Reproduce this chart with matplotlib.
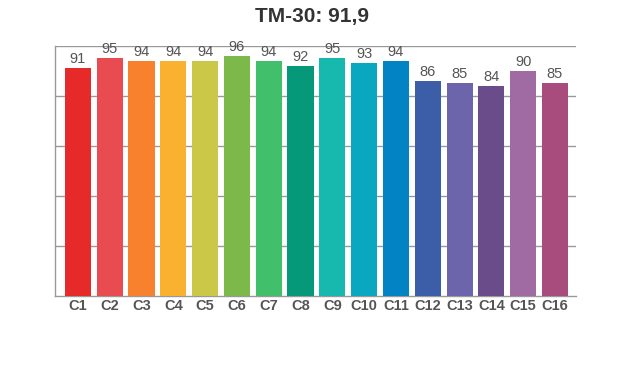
import matplotlib

matplotlib.use("Agg")

import matplotlib.pyplot as plt

labels = ["C1", "C2", "C3", "C4", "C5", "C6", "C7", "C8",
          "C9", "C10", "C11", "C12", "C13", "C14", "C15", "C16"]
values = [91, 95, 94, 94, 94, 96, 94, 92, 95, 93, 94, 86, 85, 84, 90, 85]
colors = ["#e62a2a", "#e84b50", "#f7812c", "#fbb130", "#cbc847", "#7cb84a",
          "#41bf6b", "#05997a", "#17b9ae", "#0aa7c0", "#0284c4", "#3c5da8",
          "#6d65ac", "#6b4c8a", "#a06aa3", "#a84c7d"]
title = "TM-30: 91,9"

plt.rcParams["font.family"] = ["Liberation Sans", "DejaVu Sans"]

fig = plt.figure(figsize=(6.2, 3.7), dpi=100)
ax = fig.add_axes([0.0887, 0.2, 0.8403, 0.6757])

x = list(range(len(labels)))
bars = ax.bar(x, values, width=0.82, color=colors, zorder=3)
for xi, v in zip(x, values):
    ax.text(xi, v + 0.8, str(v), ha="center", va="bottom", fontsize=10.5,
            color="#555555", zorder=4)

ax.set_xlim(-0.72, 15.66)
ax.set_ylim(0, 100)
ax.set_yticks([20, 40, 60, 80, 100])
ax.set_yticklabels([])
ax.tick_params(axis="y", length=0)
ax.yaxis.grid(True, color="#999999", linewidth=1, zorder=0)
ax.set_xticks(x)
ax.set_xticklabels(labels, fontsize=10.5, fontweight="bold", color="#555555")
ax.tick_params(axis="x", length=0, pad=2)

for side in ["top", "right"]:
    ax.spines[side].set_visible(False)
for side in ["left", "bottom"]:
    ax.spines[side].set_color("#999999")
    ax.spines[side].set_linewidth(1)

fig.text(0.503, 0.955, title, ha="center", va="center", fontsize=15,
         fontweight="bold", color="#333333")

fig.savefig("out.png", dpi=100)
plt.close(fig)
